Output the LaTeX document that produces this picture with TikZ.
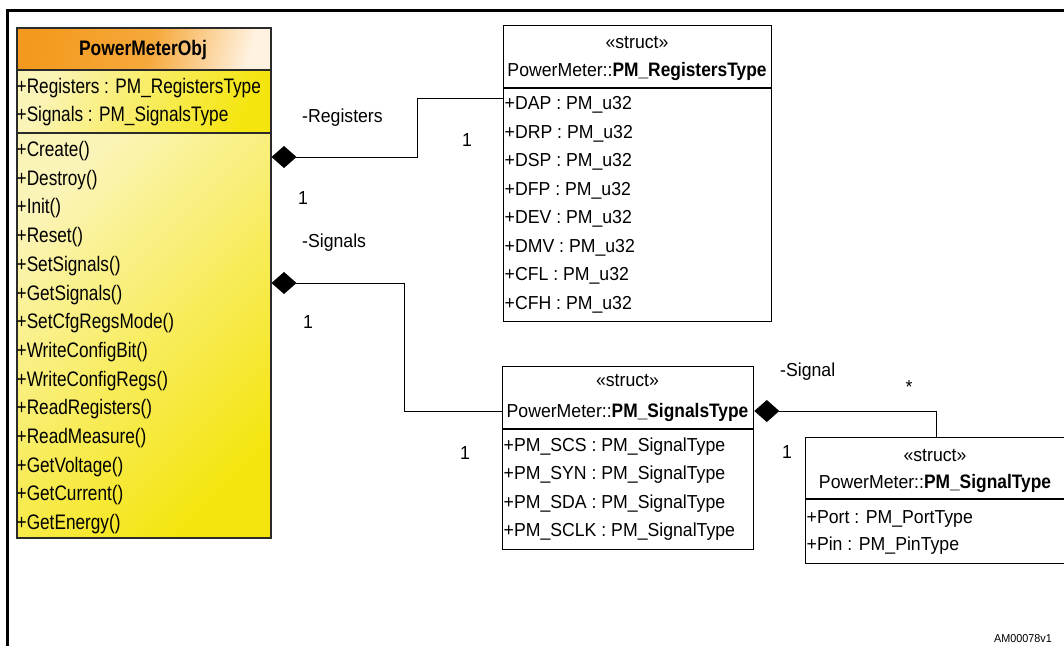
\documentclass[tikz,border=0pt]{standalone}
\usepackage{fontspec}
\setmainfont{Liberation Sans}[FakeStretch=0.94, BoldFeatures={FakeStretch=0.89}]
\newfontfamily\classfont{Liberation Sans}[FakeStretch=0.82, BoldFeatures={FakeStretch=0.83}]
\usetikzlibrary{arrows.meta}

\definecolor{hdrA}{HTML}{F39A1E}
\definecolor{hdrB}{HTML}{F6A93C}
\definecolor{hdrC}{HTML}{FFF2E0}
\definecolor{bodyA}{HTML}{FBF4B8}
\definecolor{bodyB}{HTML}{F5E50F}
\definecolor{pmoline}{HTML}{2A2A2A}

% orange title band of the class box: orange for most of the width, fading to cream
\pgfdeclarehorizontalshading{hdrshade}{100bp}{color(0bp)=(hdrA); color(25bp)=(hdrA); color(52bp)=(hdrB); color(75bp)=(hdrC); color(100bp)=(hdrC)}

\newcommand\txtsize{\fontsize{18.8}{20}\selectfont}
\newcommand\classsize{\classfont\fontsize{21}{23}\selectfont}
% bold type name inside a struct heading
\newcommand\tname[1]{{\fontsize{19.5}{20}\selectfont\bfseries #1}}

\tikzset{
  every node/.style={font=\txtsize, inner sep=0pt},
  attr/.style={anchor=base west},
  cattr/.style={anchor=base west, font=\classsize},
  lbl/.style={anchor=base},
  boxframe/.style={draw=black, line width=1.3pt, anchor=north west, inner sep=0pt, rectangle},
  divider/.style={draw=black, line width=1.3pt},
  comp/.style={line width=1pt, {Diamond[length=25pt,width=22pt]}-},
}

\begin{document}
\begin{tikzpicture}[x=1pt,y=-1pt]
\useasboundingbox (0,0) rectangle (1064,646);
\fill[white] (0,0) rectangle (1064,646);

\begin{scope}
\clip (0,0) rectangle (1064,646);

% frame
\draw[line width=3pt] (7,646) -- (7,10) -- (1064,10);

% ---------------- PowerMeterObj ----------------
\shade[shading=hdrshade, shading angle=-15] (16,27) rectangle (270,70);
\shade[top color=bodyA, bottom color=bodyB, shading angle=65] (16,70) rectangle (270,133);
\shade[top color=bodyA, bottom color=bodyB, shading angle=45] (16,133) rectangle (270,537);
\node[boxframe, draw=pmoline, line width=1.5pt, minimum width=254pt, minimum height=510pt] (pmo) at (16,27) {};
\draw[divider, draw=pmoline] (pmo.west |- 0,70) -- (pmo.east |- 0,70);
\draw[divider, draw=pmoline] (pmo.west |- 0,133) -- (pmo.east |- 0,133);

\node[lbl, font=\classsize\bfseries] (pmoname) at (143,55.5) {PowerMeterObj};
\node[cattr] (pa1) at (16.5,93.5) {+Registers : PM\_RegistersType};
\node[cattr] (pa2) at (16.5,121.5) {+Signals : PM\_SignalsType};
\foreach \t [count=\i from 0] in {Create(),Destroy(),Init(),Reset(),SetSignals(),GetSignals(),SetCfgRegsMode(),WriteConfigBit(),WriteConfigRegs(),ReadRegisters(),ReadMeasure(),GetVoltage(),GetCurrent(),GetEnergy()}
  \node[cattr] (op\i) at (16.5,{156.5+28.7*\i}) {+\t};

% ---------------- PM_RegistersType ----------------
\node[boxframe, minimum width=268pt, minimum height=296pt] (rt) at (503,25) {};
\draw[divider] (rt.west |- 0,88) -- (rt.east |- 0,88);
\node[lbl] (rtst) at (637,48) {«struct»};
\node[lbl] (rtname) at (637,76.5) {PowerMeter::\tname{PM\_RegistersType}};
\foreach \t [count=\i from 0] in {DAP,DRP,DSP,DFP,DEV,DMV,CFL,CFH}
  \node[attr] (rr\i) at (504.5,{109.5+28.57*\i}) {+\t{} : PM\_u32};

% ---------------- PM_SignalsType ----------------
\node[boxframe, minimum width=251pt, minimum height=183pt] (st) at (502,366) {};
\draw[divider] (st.west |- 0,429) -- (st.east |- 0,429);
\node[lbl] (stst) at (627.5,386) {«struct»};
\node[lbl] (stname) at (627.5,417.5) {PowerMeter::\tname{PM\_SignalsType}};
\foreach \t [count=\i from 0] in {SCS,SYN,SDA,SCLK}
  \node[attr] (sr\i) at (503.5,{451.5+28.4*\i}) {+PM\_\t{} : PM\_SignalType};

% ---------------- PM_SignalType ----------------
\node[boxframe, minimum width=261pt, minimum height=126pt] (sg) at (805,437) {};
\draw[divider] (sg.west |- 0,499) -- (sg.east |- 0,499);
\node[lbl] (sgst) at (935,461) {«struct»};
\node[lbl] (sgname) at (935,488.5) {PowerMeter::\tname{PM\_SignalType}};
\node[attr] (sg1) at (806.5,523.5) {+Port : PM\_PortType};
\node[attr] (sg2) at (806.5,550.5) {+Pin : PM\_PinType};

% ---------------- compositions ----------------
\draw[comp] (pmo.east |- 0,157) -- (417,157) |- (rt.west |- 0,98);
\draw[comp] (pmo.east |- 0,283) -- (404,283) |- (st.west |- 0,411);
\draw[comp] (st.east |- 0,411) -| (sg.north);

% role names and multiplicities
\node[attr] (lreg) at (302,122.5) {-Registers};
\node[lbl] (m1) at (467,146.5) {1};
\node[lbl] (m2) at (303,204.5) {1};
\node[attr] (lsigs) at (302,247.5) {-Signals};
\node[lbl] (m3) at (308,328.5) {1};
\node[lbl] (m4) at (465,459.5) {1};
\node[attr] (lsig) at (780,376.5) {-Signal};
\node[lbl] (m5) at (909,393) {*};
\node[lbl] (m6) at (787,458.5) {1};

\node[anchor=base east, font=\fontsize{11.5}{13}\selectfont] (ref) at (1052,642) {AM00078v1};
\end{scope}
\end{tikzpicture}
\end{document}
